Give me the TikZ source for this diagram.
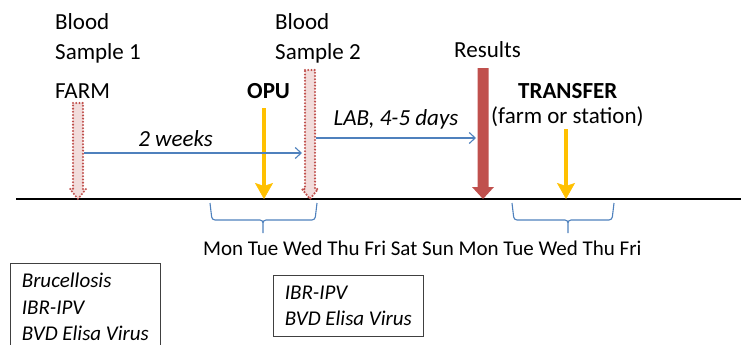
\documentclass[tikz,border=0pt]{standalone}
\usepackage{fontspec}
\setmainfont{Carlito}
\usetikzlibrary{arrows.meta,positioning,calc}

\definecolor{offred}{HTML}{C0504D}
\definecolor{offgold}{HTML}{FFC000}
\definecolor{offblue}{HTML}{4F81BD}
\definecolor{offpink}{HTML}{F2DCDB}

\begin{document}
\begin{tikzpicture}[x=1pt, y=-1pt,
  lbl/.style={font=\fontsize{23}{30}\selectfont, inner sep=0pt, align=left, text=black},
  lblb/.style={lbl, font=\fontsize{23}{30}\selectfont\bfseries},
  lbli/.style={lbl, font=\fontsize{23}{30}\selectfont\itshape},
  listbox/.style={draw=black!75, line width=0.8pt, align=left, anchor=north west,
                  font=\fontsize{21}{26.5}\selectfont\itshape,
                  inner sep=0pt, minimum width=150pt},
  sample/.style={draw=offred, fill=offpink, line width=2.3pt, line cap=round,
                 dash pattern=on 0pt off 3.2pt},
  result/.style={draw=none, fill=offred},
  gap/.style={-{Straight Barb[length=6pt,width=11pt]}, offblue, line width=1.1pt},
  event/.style={-{Stealth[length=16pt,width=18pt,inset=3pt,line width=0.5pt]},
                offgold, line width=4.5pt},
  wk/.style={offblue, line width=1.1pt, rounded corners=3pt}]

  \useasboundingbox (0,0) rectangle (741,345);
  \clip (0,0) rectangle (741,345);

  % time line
  \draw[line width=2.4pt] (16,199) coordinate (tl0) -- (741,199) coordinate (tl1);

  % labels over the line
  \node[lbl, anchor=north west]  (bs1)  at (55,13)  {Blood\\Sample 1};
  \node[lbl, anchor=base west]   (farm) at (55,98)  {FARM};
  \node[lbl, anchor=north west]  (bs2)  at (275,13) {Blood\\Sample 2};
  \node[lblb, anchor=base west]  (opu)  at (247,98) {OPU};
  \node[lbl, anchor=base west]   (res)  at (454,57) {Results};
  \node[lblb, anchor=base west]  (trf)  at (518,98) {TRANSFER};
  \node[lbl, anchor=base west]   (fos)  at (491,123) {(farm or station)};

  % sample and result markers, drawn as block arrows
  \draw[sample, shift={(78,0)}]  (-5,103) -- (5,103) -- (5,189) -- (8,189)
        -- (0,199) -- (-8,189) -- (-5,189) -- cycle;
  \draw[sample, shift={(310,0)}] (-5,70) -- (5,70) -- (5,189) -- (8,189)
        -- (0,199) -- (-8,189) -- (-5,189) -- cycle;
  \draw[result, shift={(483,0)}] (-5.5,68) -- (5.5,68) -- (5.5,187) -- (11,187)
        -- (0,199) -- (-11,187) -- (-5.5,187) -- cycle;

  % OPU and transfer days
  \coordinate (opuT) at (264,108);  \coordinate (opuB) at (264,199);
  \coordinate (trfT) at (566,129);  \coordinate (trfB) at (566,199);
  \draw[event] (opuT) -- (opuB);
  \draw[event] (trfT) -- (trfB);

  % intervals between markers
  \coordinate (s1R) at (84,153);   \coordinate (s2L) at (302,153);
  \coordinate (s2R) at (316,138);  \coordinate (resL) at (476,138);
  \draw[gap] (s1R) -- node[lbli, above=6pt, pos=0.42] (twowk) {2 weeks} (s2L);
  \draw[gap] (s2R) -- node[lbli, above=8pt] (lab) {LAB, 4-5 days} (resL);

  % week braces and days
  \draw[wk] (210,203) -- (212,220) -- (263,220) -- (263,233)
            (263,233) -- (263,220) -- (315,220) -- (317,203);
  \draw[wk] (512,203) -- (514,220) -- (568,220) -- (568,233)
            (568,233) -- (568,220) -- (612,220) -- (614,203);
  \node[anchor=base west, inner sep=0pt, font=\fontsize{21}{26}\selectfont]
        (days) at (203,255) {Mon Tue Wed Thu Fri Sat Sun Mon Tue Wed Thu Fri};

  % tests per sample
  \node[listbox, minimum height=87pt] (tests1) at (10,263)
        {Brucellosis\\IBR-IPV\\BVD Elisa Virus};
  \node[listbox, minimum height=61pt] (tests2) at (273,275)
        {IBR-IPV\\BVD Elisa Virus};
\end{tikzpicture}
\end{document}
